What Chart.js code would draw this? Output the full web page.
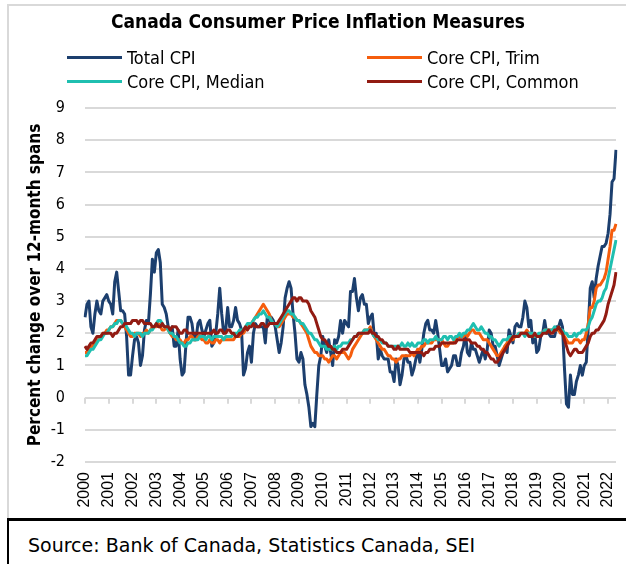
<!DOCTYPE html>
<html><head><meta charset="utf-8">
<script src="https://cdn.jsdelivr.net/npm/chart.js@4.4.1/dist/chart.umd.min.js"></script>
<style>
html,body{margin:0;padding:0;background:#fff;}
body{width:626px;height:564px;position:relative;overflow:hidden;font-family:"DejaVu Sans Condensed","DejaVu Sans",sans-serif;color:#000;}
#frame{position:absolute;left:7px;top:4px;width:619px;height:514px;border-left:2px solid #d9d9d9;border-top:2px solid #d9d9d9;box-sizing:border-box;}
#wrap{position:absolute;left:0;top:0;width:626px;height:516px;}
#title{position:absolute;left:0;width:636px;top:12px;line-height:19px;text-align:center;font-weight:bold;font-size:19px;white-space:nowrap;}
.leg{position:absolute;height:20px;display:flex;align-items:center;font-size:18px;white-space:nowrap;}
.leg .ln{width:55px;height:3px;margin-right:5px;}
#source{position:absolute;left:7px;top:518px;width:619px;height:46px;border-left:2px solid #000;border-top:3px solid #000;box-sizing:border-box;}
#srctext{position:absolute;left:28px;top:536px;line-height:19px;font-size:19px;white-space:nowrap;font-family:"DejaVu Sans",sans-serif;}
</style>
</head>
<body>
<div id="frame"></div>
<div id="wrap"><canvas id="c" width="626" height="516"></canvas></div>
<div id="title">Canada Consumer Price Inflation Measures</div>
<div class="leg" style="left:67px;top:47px"><div class="ln" style="background:#1c3f6e"></div>Total CPI</div>
<div class="leg" style="left:367px;top:47px"><div class="ln" style="background:#f55d0d"></div>Core CPI, Trim</div>
<div class="leg" style="left:67px;top:71px"><div class="ln" style="background:#1fbfb0"></div>Core CPI, Median</div>
<div class="leg" style="left:367px;top:71px"><div class="ln" style="background:#921b12"></div>Core CPI, Common</div>
<div id="source"></div>
<div id="srctext">Source: Bank of Canada, Statistics Canada, SEI</div>
<script>
// Tick labels (years) and monthly categories Jan 2000 - May 2022
const years = ['2000','2001','2002','2003','2004','2005','2006','2007','2008','2009','2010','2011','2012','2013','2014','2015','2016','2017','2018','2019','2020','2021','2022'];
const monthsInLastYear = 5;
const months = [];
years.forEach((y, yi) => {
  const n = yi === years.length - 1 ? monthsInLastYear : 12;
  for (let m = 1; m <= n; m++) months.push(y + '-' + String(m).padStart(2, '0'));
});

const totalCPI = [
  2.5,2.9,3.0,2.2,2.0,2.6,3.0,2.7,2.6,3.0,3.1,3.2,
  3.0,2.9,2.6,3.6,3.9,3.3,2.7,2.7,2.6,1.9,0.7,0.7,
  1.3,1.8,1.9,1.7,1.0,1.3,2.1,2.4,2.3,3.2,4.3,3.9,
  4.5,4.6,4.2,2.9,2.8,2.6,2.2,2.0,2.2,1.6,1.6,2.1,
  1.2,0.7,0.8,1.7,2.5,2.5,2.3,1.8,1.8,2.3,2.4,2.1,
  1.9,2.1,2.3,2.4,1.6,1.7,2.0,2.6,3.4,2.6,2.0,2.1,
  2.8,2.2,2.2,2.4,2.8,2.4,2.3,2.1,0.7,0.9,1.4,1.6,
  1.1,2.0,2.3,2.2,2.2,2.2,2.2,1.7,2.5,2.4,2.5,2.4,
  2.2,1.8,1.4,1.7,2.2,3.1,3.4,3.6,3.4,2.6,2.0,1.2,
  1.1,1.4,1.2,0.4,0.1,-0.3,-0.9,-0.8,-0.9,0.1,1.0,1.3,
  1.9,1.6,1.4,1.8,1.4,1.0,1.8,1.7,1.9,2.4,2.0,2.4,
  2.3,2.2,3.3,3.3,3.7,3.1,2.7,3.1,3.2,2.9,2.9,2.3,
  2.5,2.6,1.9,2.0,1.2,1.5,1.3,1.2,1.2,1.2,0.8,0.8,
  0.5,1.2,1.0,0.4,0.7,1.2,1.3,1.1,1.1,0.7,0.9,1.2,
  1.5,1.1,1.5,2.0,2.3,2.4,2.1,2.1,2.0,2.4,2.0,1.5,
  1.0,1.0,1.2,0.8,0.9,1.0,1.3,1.3,1.0,1.0,1.4,1.6,
  2.0,1.4,1.3,1.7,1.5,1.5,1.3,1.1,1.3,1.5,1.2,1.5,
  2.1,2.0,1.6,1.6,1.3,1.0,1.2,1.4,1.6,1.4,2.1,1.9,
  1.7,2.2,2.3,2.2,2.2,2.5,3.0,2.8,2.2,2.4,1.7,2.0,
  1.4,1.5,1.9,2.0,2.4,2.0,2.0,1.9,1.9,1.9,2.2,2.2,
  2.4,2.2,0.9,-0.2,-0.3,0.7,0.1,0.1,0.5,0.7,1.0,0.7,
  1.0,1.1,2.2,3.4,3.6,3.1,3.7,4.1,4.4,4.7,4.7,4.8,
  5.1,5.7,6.7,6.8,7.7
];

const coreTrim = [
  1.4,1.4,1.5,1.6,1.6,1.7,1.8,1.8,1.9,2.0,2.0,2.1,
  2.1,2.2,2.2,2.3,2.4,2.4,2.4,2.3,2.2,2.1,2.0,1.9,
  1.9,2.0,2.0,2.0,1.9,2.0,2.0,2.1,2.0,2.1,2.2,2.2,
  2.2,2.3,2.2,2.1,2.1,2.2,2.1,2.0,1.9,1.9,1.8,1.8,
  1.8,1.7,1.7,1.8,1.8,1.9,1.9,1.8,1.8,1.9,1.9,1.8,
  1.8,1.7,1.7,1.8,1.7,1.7,1.8,1.8,1.7,1.8,1.8,1.8,
  1.8,1.8,1.8,1.8,1.9,1.9,1.9,2.0,2.0,2.1,2.2,2.3,
  2.3,2.4,2.5,2.6,2.7,2.8,2.9,2.8,2.7,2.6,2.4,2.3,
  2.3,2.2,2.2,2.3,2.4,2.5,2.6,2.6,2.6,2.5,2.5,2.4,
  2.4,2.3,2.2,2.1,2.0,1.8,1.6,1.5,1.4,1.4,1.3,1.3,
  1.3,1.2,1.2,1.1,1.2,1.3,1.3,1.2,1.3,1.4,1.4,1.4,
  1.3,1.2,1.3,1.5,1.6,1.7,1.8,1.9,2.0,2.1,2.1,2.1,
  2.2,2.0,1.9,1.8,1.7,1.6,1.5,1.5,1.4,1.3,1.3,1.2,
  1.2,1.1,1.2,1.2,1.3,1.3,1.3,1.3,1.3,1.4,1.3,1.4,
  1.5,1.5,1.6,1.6,1.7,1.7,1.7,1.7,1.8,1.8,1.8,1.8,
  1.8,1.7,1.6,1.6,1.7,1.7,1.7,1.8,1.9,1.9,1.9,1.9,
  2.0,1.9,2.0,2.1,2.1,2.0,2.0,2.0,1.9,1.8,1.8,1.8,
  1.7,1.6,1.5,1.4,1.3,1.3,1.4,1.5,1.6,1.7,1.8,1.8,
  1.8,1.9,1.9,2.0,2.0,2.0,2.0,2.1,2.0,2.0,1.9,1.9,
  1.9,1.9,2.0,2.0,2.1,2.1,2.1,2.1,2.1,2.1,2.1,2.1,
  2.0,2.0,1.9,1.8,1.7,1.7,1.7,1.8,1.8,1.8,1.7,1.8,
  1.8,2.0,2.3,2.8,2.8,3.0,3.4,3.5,3.5,3.6,3.7,3.9,
  4.3,4.7,5.2,5.2,5.4
];

const coreMedian = [
  1.3,1.3,1.4,1.5,1.5,1.6,1.7,1.8,1.8,1.9,2.0,2.0,
  2.1,2.2,2.2,2.3,2.3,2.4,2.4,2.3,2.3,2.2,2.1,2.0,
  2.0,1.9,2.0,2.0,2.0,1.9,2.0,2.0,2.0,2.1,2.1,2.2,
  2.3,2.4,2.4,2.3,2.2,2.2,2.1,2.0,2.0,1.9,1.9,1.8,
  1.7,1.7,1.6,1.6,1.7,1.7,1.8,1.8,1.8,1.8,1.9,1.9,
  1.9,1.8,1.9,1.9,1.8,1.9,1.9,1.9,1.9,1.9,1.8,1.9,
  1.9,1.9,1.9,2.0,2.0,2.0,2.1,2.1,2.1,2.2,2.3,2.3,
  2.3,2.4,2.5,2.5,2.6,2.6,2.7,2.6,2.5,2.5,2.4,2.3,
  2.3,2.2,2.3,2.4,2.5,2.6,2.7,2.7,2.6,2.6,2.5,2.4,
  2.4,2.3,2.3,2.2,2.1,2.0,2.0,1.9,1.8,1.8,1.7,1.6,
  1.6,1.6,1.5,1.5,1.5,1.5,1.6,1.5,1.6,1.6,1.7,1.7,
  1.7,1.7,1.8,1.8,1.9,1.9,2.0,2.0,2.0,2.1,2.1,2.1,
  2.1,2.0,1.9,1.9,1.8,1.8,1.7,1.7,1.7,1.6,1.6,1.6,
  1.6,1.6,1.6,1.6,1.7,1.6,1.6,1.7,1.6,1.7,1.6,1.6,
  1.7,1.7,1.7,1.8,1.8,1.7,1.8,1.8,1.8,1.9,1.8,1.8,
  1.8,1.9,1.9,1.8,1.9,1.9,1.8,1.9,1.9,2.0,1.9,2.0,
  2.0,2.1,2.1,2.2,2.3,2.2,2.1,2.1,2.2,2.1,2.0,2.0,
  1.9,1.9,1.8,1.8,1.7,1.6,1.7,1.8,1.8,1.8,1.9,1.9,
  1.9,1.9,1.9,2.0,2.0,2.0,1.9,2.0,2.0,2.0,2.0,1.9,
  1.9,2.0,2.0,2.0,2.1,2.1,2.1,2.1,2.1,2.2,2.1,2.2,
  2.1,2.1,2.0,2.0,1.9,1.9,1.9,2.0,1.9,2.0,2.0,2.1,
  2.1,2.1,2.2,2.4,2.5,2.7,2.9,3.0,3.0,3.1,3.3,3.4,
  3.7,4.0,4.3,4.6,4.9
];

const coreCommon = [
  1.6,1.5,1.6,1.7,1.7,1.8,1.9,1.9,1.9,2.0,2.0,2.0,
  2.0,2.0,1.9,2.0,2.0,2.1,2.2,2.2,2.3,2.3,2.3,2.3,
  2.4,2.4,2.4,2.3,2.4,2.4,2.3,2.3,2.3,2.3,2.2,2.2,
  2.3,2.2,2.2,2.3,2.2,2.2,2.2,2.1,2.2,2.2,2.2,2.1,
  2.0,2.0,2.1,2.1,2.0,2.0,2.0,2.0,2.0,2.0,2.0,2.0,
  2.0,2.0,2.0,2.0,2.0,2.1,2.0,2.0,2.1,2.1,2.0,2.0,
  2.1,2.1,2.0,2.0,1.9,1.9,2.0,2.0,2.1,2.2,2.1,2.2,
  2.2,2.3,2.2,2.2,2.2,2.3,2.3,2.2,2.2,2.3,2.3,2.3,
  2.3,2.3,2.4,2.5,2.6,2.7,2.8,2.9,3.0,3.1,3.1,3.0,
  3.1,3.1,3.0,3.0,3.0,2.9,2.7,2.6,2.5,2.3,2.1,1.9,
  1.8,1.8,1.7,1.6,1.6,1.5,1.5,1.4,1.4,1.4,1.5,1.5,
  1.5,1.6,1.7,1.8,1.9,1.9,2.0,2.0,2.0,2.0,2.0,2.0,
  2.1,2.0,2.0,1.9,1.9,1.8,1.8,1.7,1.7,1.6,1.6,1.6,
  1.5,1.5,1.6,1.5,1.5,1.5,1.5,1.5,1.4,1.4,1.4,1.4,
  1.4,1.4,1.4,1.3,1.4,1.4,1.5,1.5,1.5,1.6,1.6,1.6,
  1.7,1.7,1.7,1.7,1.7,1.7,1.7,1.7,1.8,1.8,1.8,1.8,
  1.8,1.8,1.8,1.7,1.7,1.7,1.6,1.6,1.5,1.5,1.4,1.4,
  1.3,1.2,1.2,1.1,1.1,1.2,1.3,1.4,1.5,1.6,1.7,1.8,
  1.9,1.9,1.9,1.9,2.0,2.0,2.0,2.0,1.9,1.9,1.9,2.0,
  1.9,1.9,1.9,2.0,2.0,2.0,2.1,2.0,2.0,2.1,2.1,2.2,
  2.1,2.0,1.8,1.6,1.4,1.3,1.4,1.5,1.5,1.4,1.4,1.4,
  1.5,1.6,1.7,1.9,2.0,2.0,2.1,2.1,2.2,2.3,2.4,2.6,
  2.9,3.1,3.3,3.5,3.9
];

const FONT = '"DejaVu Sans Condensed","DejaVu Sans",sans-serif';

const zeroTicks = {
  id: 'zeroTicks',
  beforeDatasetsDraw(chart) {
    const { ctx, scales: { x, y } } = chart;
    const y0 = y.getPixelForValue(0);
    ctx.save();
    ctx.strokeStyle = '#d9d9d9';
    ctx.lineWidth = 2;
    months.forEach((m, i) => {
      if (i % 12 === 0) {
        const px = Math.round(x.getPixelForValue(i));
        ctx.beginPath();
        ctx.moveTo(px, y0);
        ctx.lineTo(px, y0 + 6);
        ctx.stroke();
      }
    });
    ctx.restore();
  }
};

const ds = (label, data, color, order) => ({
  label, data, borderColor: color, backgroundColor: color,
  borderWidth: 3, pointRadius: 0, tension: 0, fill: false, order,
  borderJoinStyle: 'round'
});

new Chart(document.getElementById('c'), {
  type: 'line',
  data: {
    labels: months,
    datasets: [
      ds('Total CPI', totalCPI, '#1c3f6e', 3),
      ds('Core CPI, Trim', coreTrim, '#f55d0d', 2),
      ds('Core CPI, Median', coreMedian, '#1fbfb0', 1),
      ds('Core CPI, Common', coreCommon, '#921b12', 0)
    ]
  },
  plugins: [zeroTicks],
  options: {
    responsive: false,
    animation: false,
    devicePixelRatio: 1,
    layout: { padding: { top: 108, right: 10, left: 0, bottom: 0 } },
    plugins: { legend: { display: false }, tooltip: { enabled: false }, title: { display: false } },
    scales: {
      x: {
        type: 'category',
        offset: false,
        grid: { display: false, drawTicks: false },
        border: { display: false },
        ticks: {
          autoSkip: false, maxRotation: 90, minRotation: 90, padding: 10,
          color: '#000',
          font: { family: '"Liberation Sans", Arial, sans-serif', size: 16 },
          callback: (v, i) => (i % 12 === 0 ? months[i].slice(0, 4) : '')
        },
        afterFit: s => { s.height = 54; s.paddingLeft = 0; s.paddingRight = 0; }
      },
      y: {
        min: -2, max: 9,
        grid: { color: '#d9d9d9', lineWidth: 2, drawTicks: false },
        border: { display: false },
        ticks: { stepSize: 1, padding: 20, color: '#000', font: { family: FONT, size: 16 } },
        title: {
          display: true, text: 'Percent change over 12-month spans', color: '#000',
          font: { family: FONT, size: 17, weight: 'bold' }, padding: { top: 25, bottom: 0 }
        },
        afterFit: s => { s.width = 85; }
      }
    }
  }
});
</script>
</body></html>
